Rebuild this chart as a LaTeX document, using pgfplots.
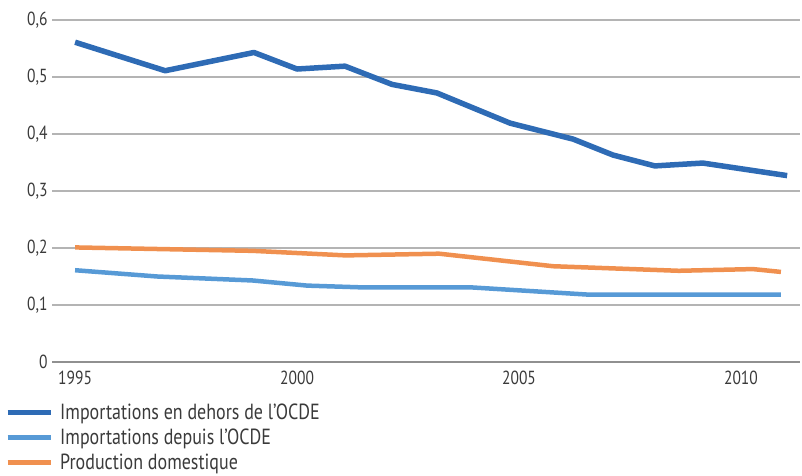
\documentclass[border=0pt]{standalone}
\usepackage{pgfplots}
\pgfplotsset{compat=1.18}
\usepackage{fontspec}
\setmainfont{PT Sans}[FakeStretch=0.82]

\definecolor{darkblue}{HTML}{2E6BB5}
\definecolor{lightblue}{HTML}{579AD6}
\definecolor{orangeline}{HTML}{F0904F}
\definecolor{txt}{HTML}{3A3A3A}
\definecolor{gridc}{HTML}{B4B4B4}

\begin{document}
\begin{tikzpicture}
\begin{axis}[
    name=ax,
    scale only axis,
    width=748bp, height=342bp,
    xmin=1994.48, xmax=2011.33,
    ymin=0, ymax=0.6,
    xtick={1995,2000,2005,2010},
    ytick={0,0.1,0.2,0.3,0.4,0.5,0.6},
    major tick length=0pt,
    axis x line*=bottom,
    axis y line*=left,
    x axis line style={draw=gridc!80!black, line width=1.2bp, -},
    y axis line style={draw=none, -},
    ymajorgrids,
    grid style={draw=gridc, line width=1.2bp},
    tick label style={font=\fontsize{19}{22}\selectfont, text=txt},
    /pgf/number format/assume math mode=true,
    x tick label style={/pgf/number format/1000 sep={}, yshift=-6bp},
    y tick label style={/pgf/number format/use comma, /pgf/number format/fixed, /pgf/number format/precision=1, xshift=-1bp},
    legend style={at={(0,0)}, anchor=north west, xshift=-47bp, yshift=-40bp,
        draw=none, fill=none, font=\fontsize{22}{25}\selectfont, text=txt,
        row sep=4bp, inner sep=0pt,
        /tikz/every odd column/.append style={column sep=5bp}},
    legend cell align=left,
    legend image code/.code={\draw[#1, line width=5bp] (0bp,0bp) -- (43bp,0bp);},
    every axis plot/.append style={line join=round},
]
\addplot[darkblue, line width=5.5bp] coordinates {
    (1995.00,0.561) (1997.03,0.511) (1999.03,0.543) (2000.00,0.514)
    (2001.08,0.519) (2002.14,0.487) (2003.15,0.472) (2004.80,0.419)
    (2006.22,0.391) (2007.12,0.363) (2008.06,0.344) (2009.14,0.349)
    (2011.04,0.327)
};
\addlegendentry{Importations en dehors de l’OCDE}
\addplot[lightblue, line width=4.5bp] coordinates {
    (1995.00,0.161) (1996.85,0.150) (1999.00,0.143) (2000.23,0.134)
    (2001.42,0.131) (2003.90,0.131) (2006.60,0.118) (2010.90,0.118)
};
\addlegendentry{Importations depuis l’OCDE}
\addplot[orangeline, line width=4.5bp] coordinates {
    (1995.00,0.201) (1999.00,0.195) (2001.10,0.187) (2003.20,0.190)
    (2005.77,0.168) (2008.60,0.160) (2010.27,0.163) (2010.90,0.158)
};
\addlegendentry{Production domestique}
\end{axis}
\path ([xshift=-52bp,yshift=-114bp]ax.south west) rectangle ([xshift=2bp,yshift=20bp]ax.north east);
\end{tikzpicture}
\end{document}
